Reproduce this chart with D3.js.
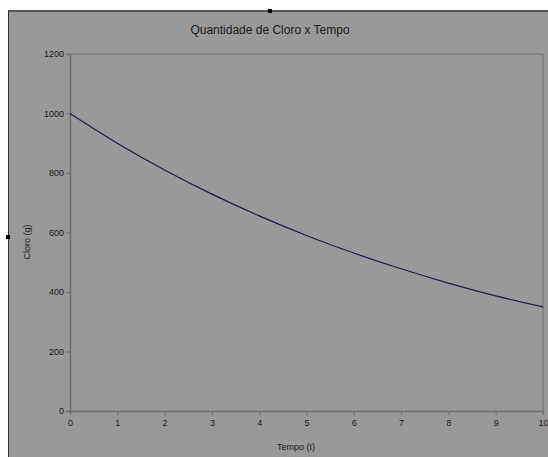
<!DOCTYPE html>
<html>
<head>
<meta charset="utf-8">
<script src="https://cdn.jsdelivr.net/npm/d3@7"></script>
<style>
  body { margin: 0; background: #fff; }
  text { font-family: "Liberation Sans", Arial, sans-serif; }
</style>
</head>
<body>
<svg id="chart" width="548" height="457"></svg>
<script>
// values
const tempo = [0, 1, 2, 3, 4, 5, 6, 7, 8, 9, 10];
const cloro = [1000, 900, 810, 729, 656, 590, 531, 478, 430, 387, 350];
const yTicks = [0, 200, 400, 600, 800, 1000, 1200];

const svg = d3.select("#chart");

// chart area background + frame
svg.append("rect")
  .attr("x", 8).attr("y", 11)
  .attr("width", 540).attr("height", 446)
  .attr("fill", "#999999");
svg.append("line")
  .attr("x1", 8).attr("x2", 548).attr("y1", 11).attr("y2", 11)
  .attr("stroke", "#555").attr("stroke-width", 2);
svg.append("line")
  .attr("x1", 8.5).attr("x2", 8.5).attr("y1", 11).attr("y2", 457)
  .attr("stroke", "#333").attr("stroke-width", 1);
// selection handles
svg.append("rect").attr("x", 268).attr("y", 9).attr("width", 4).attr("height", 4).attr("fill", "#000");
svg.append("rect").attr("x", 6).attr("y", 235).attr("width", 4).attr("height", 4).attr("fill", "#000");

const margin = {left: 70, right: 5, top: 54, bottom: 46};
const x = d3.scaleLinear().domain([0, 10]).range([margin.left, 548 - margin.right]);
const y = d3.scaleLinear().domain([0, 1200]).range([457 - margin.bottom, margin.top]);

// plot box top / right edges
svg.append("path")
  .attr("d", `M${x(0)},${y(1200)}H${x(10)}V${y(0)}`)
  .attr("fill", "none")
  .attr("stroke", "#6e6e6e");

const xAxis = svg.append("g")
  .attr("transform", `translate(0,${y(0)})`)
  .call(d3.axisBottom(x).ticks(10).tickSize(4).tickPadding(5).tickFormat(d3.format("d")));
const yAxis = svg.append("g")
  .attr("transform", `translate(${x(0)},0)`)
  .call(d3.axisLeft(y).tickValues(yTicks).tickSize(4).tickPadding(2).tickFormat(d3.format("d")));

[xAxis, yAxis].forEach(g => {
  g.select(".domain").attr("stroke", "#6e6e6e").attr("stroke-width", 1.5);
  g.selectAll(".tick line").attr("stroke", "#6e6e6e");
  g.selectAll(".tick text")
    .attr("fill", "#1a1a1a")
    .style("font-size", "9px")
    .style("font-family", "'Liberation Sans', Arial, sans-serif");
});

// curve
const line = d3.line()
  .x((d, i) => x(tempo[i]))
  .y(d => y(d))
  .curve(d3.curveMonotoneX);
svg.append("path")
  .datum(cloro)
  .attr("d", line)
  .attr("fill", "none")
  .attr("stroke", "#1c1c4a")
  .attr("stroke-width", 1.2);

// titles
svg.append("text")
  .attr("x", 270).attr("y", 34)
  .attr("text-anchor", "middle")
  .attr("fill", "#1a1a1a")
  .style("font-size", "12px")
  .text("Quantidade de Cloro x Tempo");
svg.append("text")
  .attr("x", 296).attr("y", 450)
  .attr("text-anchor", "middle")
  .attr("fill", "#1a1a1a")
  .style("font-size", "9px")
  .text("Tempo (t)");
svg.append("text")
  .attr("transform", "translate(30,242) rotate(-90)")
  .attr("text-anchor", "middle")
  .attr("fill", "#1a1a1a")
  .style("font-size", "9px")
  .text("Cloro (g)");
</script>
</body>
</html>
